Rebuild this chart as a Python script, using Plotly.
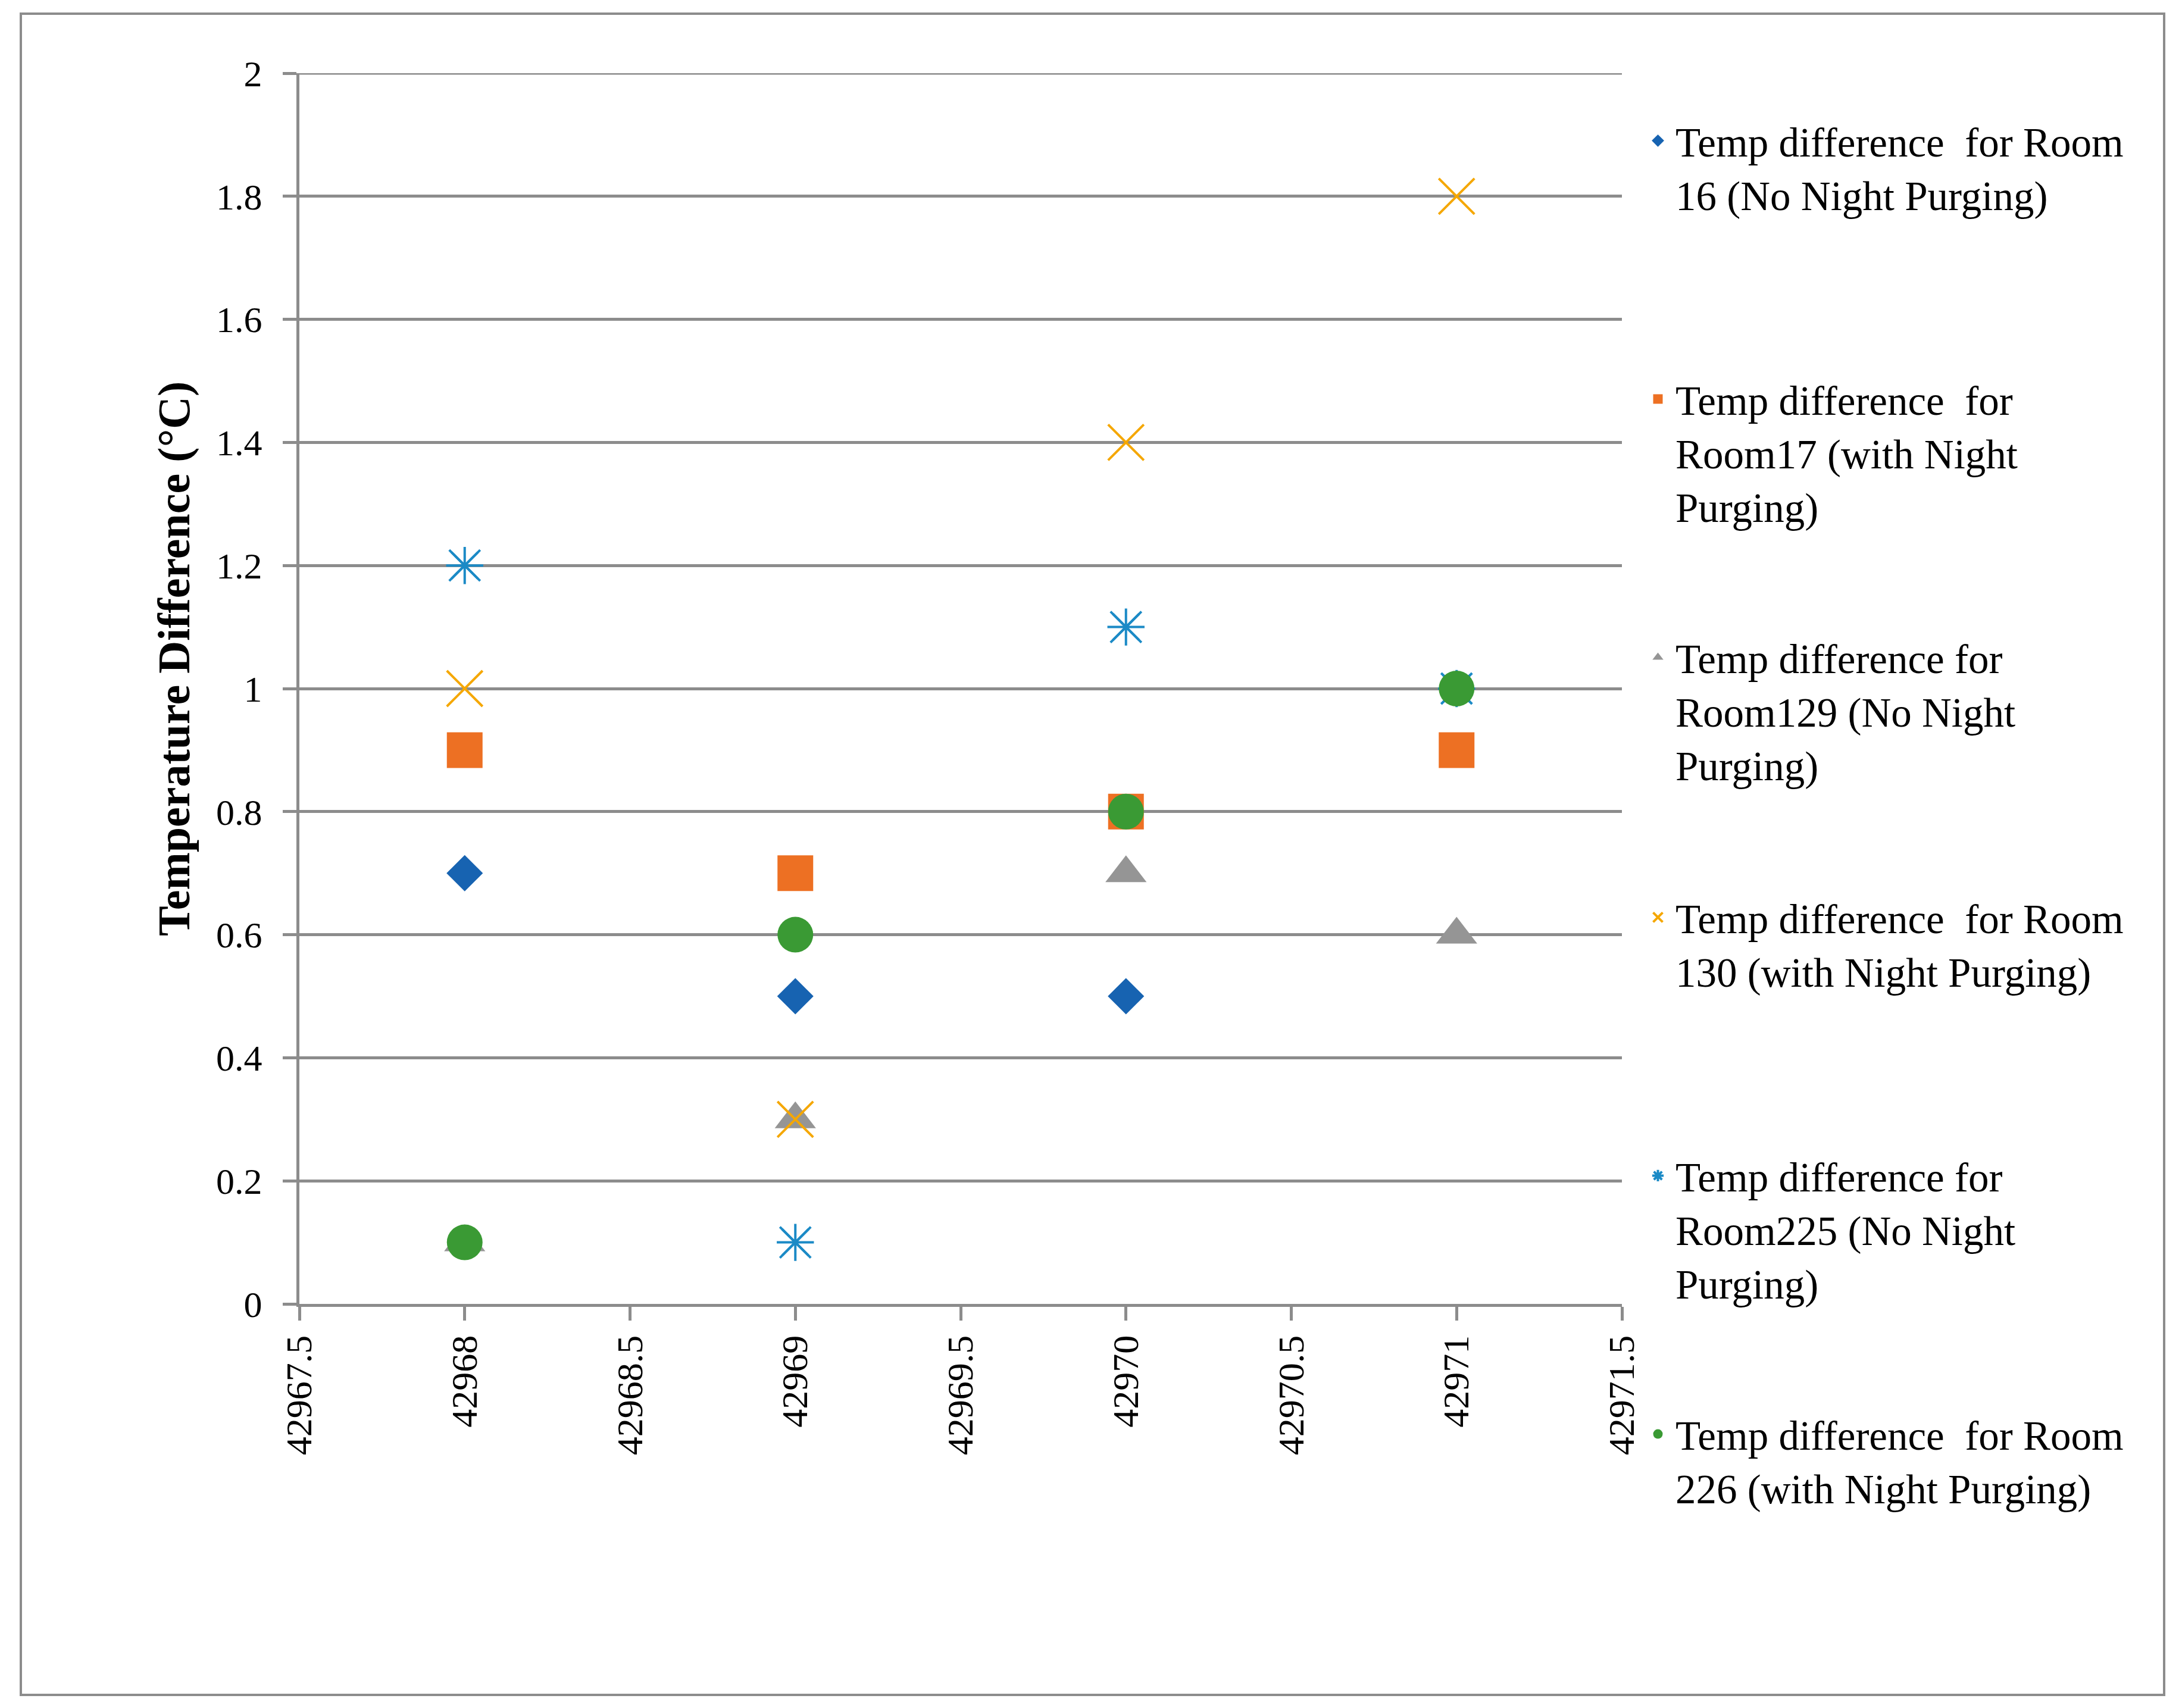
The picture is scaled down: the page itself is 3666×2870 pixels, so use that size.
import plotly.graph_objects as go

# ---------------- data ----------------
days_16 = [42968, 42969, 42970]
room16 = [0.7, 0.5, 0.5]
days = [42968, 42969, 42970, 42971]
room17 = [0.9, 0.7, 0.8, 0.9]
room129 = [0.1, 0.3, 0.7, 0.6]
room130 = [1.0, 0.3, 1.4, 1.8]
room225 = [1.2, 0.1, 1.1, 1.0]
room226 = [0.1, 0.6, 0.8, 1.0]

x_tick_vals = [42967.5, 42968, 42968.5, 42969, 42969.5, 42970, 42970.5, 42971, 42971.5]
x_tick_text = ["42967.5", "42968", "42968.5", "42969", "42969.5", "42970", "42970.5", "42971", "42971.5"]
y_tick_vals = [0, 0.2, 0.4, 0.6, 0.8, 1.0, 1.2, 1.4, 1.6, 1.8, 2.0]
y_tick_text = ["0", "0.2", "0.4", "0.6", "0.8", "1", "1.2", "1.4", "1.6", "1.8", "2"]
y_title = "Temperature Difference (°C)"

PAD = "<br>\u00a0"
names = [
    "Temp difference  for Room<br>16 (No Night Purging)" + PAD,
    "Temp difference  for<br>Room17 (with Night<br>Purging)",
    "Temp difference for<br>Room129 (No Night<br>Purging)",
    "Temp difference  for Room<br>130 (with Night Purging)" + PAD,
    "Temp difference for<br>Room225 (No Night<br>Purging)",
    "Temp difference  for Room<br>226 (with Night Purging)",
]

# ---------------- style ----------------
W, H = 3666, 2870
L, R, T, B = 503, 941, 123, 679
PW, PH = W - L - R, H - T - B
FONT = "Liberation Serif"
GRID = "#8C8C8C"
C_BLUE = "#1763B1"
C_ORANGE = "#ED7023"
C_GRAY = "#959595"
C_GOLD = "#F5A700"
C_SKY = "#1B8AC6"
C_GREEN = "#3A9A34"

LEG_X = 2756
LEG_TOP = 185
LEG_STEP = 435
LEG_FONT = 69
LEG_GAP = 162

fig = go.Figure()

fig.add_trace(go.Scatter(x=days_16, y=room16, mode="markers", name=names[0], legendgroup="g1",
                         legend="legend",
                         marker=dict(symbol="diamond", size=47, color=C_BLUE)))
fig.add_trace(go.Scatter(x=days, y=room17, mode="markers", name=names[1], legendgroup="g2",
                         legend="legend",
                         marker=dict(symbol="square", size=60, color=C_ORANGE)))
fig.add_trace(go.Scatter(x=days, y=room129, mode="markers", name=names[2], legendgroup="g3",
                         legend="legend",
                         marker=dict(symbol="triangle-up", size=60, color=C_GRAY)))
fig.add_trace(go.Scatter(x=days, y=room130, mode="markers", name=names[3], legendgroup="g4",
                         legend="legend2",
                         marker=dict(symbol="x-thin-open", size=60, color=C_GOLD,
                                     line=dict(color=C_GOLD, width=4))))
# Room225: asterisk drawn as diagonal cross + vertical bar
fig.add_trace(go.Scatter(x=days, y=room225, mode="markers", name=names[4], legendgroup="g5",
                         legend="legend2", showlegend=False,
                         marker=dict(symbol="x-thin-open", size=52, color=C_SKY,
                                     line=dict(color=C_SKY, width=4))))
fig.add_trace(go.Scatter(x=days, y=room225, mode="markers", name=names[4], legendgroup="g5",
                         legend="legend2",
                         marker=dict(symbol="asterisk-open", size=52, color=C_SKY,
                                     line=dict(color=C_SKY, width=4))))
fig.add_trace(go.Scatter(x=days, y=room226, mode="markers", name=names[5], legendgroup="g6",
                         legend="legend2",
                         marker=dict(symbol="circle", size=60, color=C_GREEN)))

legend_common = dict(
    xref="container", yref="container", xanchor="left", yanchor="top",
    font=dict(family=FONT, size=LEG_FONT, color="black"),
    valign="top", tracegroupgap=LEG_GAP, traceorder="grouped",
    bgcolor="rgba(0,0,0,0)", itemwidth=49,
)

fig.update_layout(
    width=W, height=H,
    margin=dict(l=L, r=R, t=T, b=B, autoexpand=False),
    paper_bgcolor="white", plot_bgcolor="white",
    font=dict(family=FONT, color="black", size=62),
    showlegend=True,
    legend=dict(x=LEG_X / W, y=1 - LEG_TOP / H, **legend_common),
    legend2=dict(x=LEG_X / W, y=1 - (LEG_TOP + 3 * LEG_STEP) / H, **legend_common),
    xaxis=dict(
        range=[42967.5, 42971.5], tickmode="array", tickvals=x_tick_vals, ticktext=x_tick_text,
        tickangle=-90, showgrid=False, zeroline=False,
        showline=True, linecolor=GRID, linewidth=5,
        ticks="outside", ticklen=23, tickwidth=5, tickcolor=GRID,
        tickfont=dict(family=FONT, size=62), automargin=False,
    ),
    yaxis=dict(
        range=[0, 2], tickmode="array", tickvals=y_tick_vals, ticktext=y_tick_text,
        showgrid=True, gridcolor=GRID, gridwidth=5, zeroline=False,
        showline=True, linecolor=GRID, linewidth=5,
        ticks="outside", ticklen=23, tickwidth=5, tickcolor=GRID,
        ticklabelstandoff=22,
        tickfont=dict(family=FONT, size=62), automargin=False,
    ),
    annotations=[dict(
        text="<b>" + y_title + "</b>", textangle=-90,
        xref="paper", yref="paper", x=(292 - L) / PW, y=(H - B - 1107) / PH,
        xanchor="center", yanchor="middle", showarrow=False,
        font=dict(family=FONT, size=76, color="black"),
    )],
    shapes=[
        dict(type="line", xref="paper", yref="y", x0=0, x1=1,
             y0=y_tick_vals[-1], y1=y_tick_vals[-1],
             line=dict(color=GRID, width=5), layer="below"),
        dict(type="rect", xref="paper", yref="paper",
             x0=(35 - L) / PW, x1=(3636 - L) / PW,
             y0=(H - B - 2848) / PH, y1=(H - B - 23) / PH,
             line=dict(color=GRID, width=4), fillcolor="rgba(0,0,0,0)", layer="below"),
    ],
)

fig.write_html("out.html", config={"displayModeBar": False},
               post_script="document.body.style.margin='0';")
